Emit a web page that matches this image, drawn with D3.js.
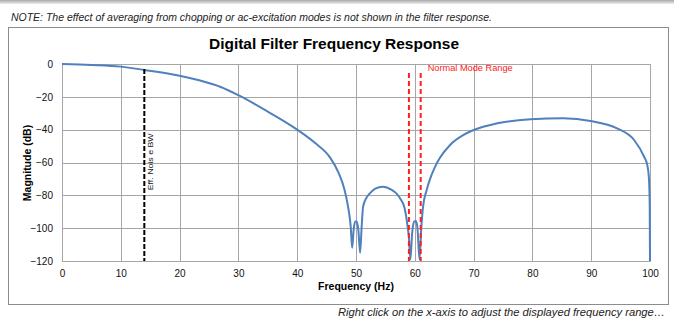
<!DOCTYPE html>
<html>
<head>
<meta charset="utf-8">
<script src="https://cdn.jsdelivr.net/npm/d3@7"></script>
<style>
  body { margin: 0; background: #fff; }
  svg { display: block; font-family: "Liberation Sans", Arial, sans-serif; }
</style>
</head>
<body>
<svg id="chart" width="674" height="326"></svg>
<script>
// filter response
const freqHz = [0, 5, 10, 14, 20, 23.5, 27, 30, 35, 40, 43, 45.6, 47, 48, 48.7, 49.1, 49.35, 49.6, 49.85, 50.1, 50.4, 50.7, 50.95, 51.2, 51.7, 52.3, 53.2, 54.6, 56, 56.9, 57.7, 58.2, 58.7, 59.0, 59.25, 59.55, 59.9, 60.2, 60.45, 60.8, 61.1, 61.4, 62, 62.6, 63.4, 64.3, 66, 68.3, 70, 74, 79.7, 85.3, 89.9, 94.4, 97.3, 99, 99.5, 99.8, 99.95, 100];
const magDb = [0, -0.6, -1.6, -3.6, -7.1, -10.1, -14, -19, -29, -40, -48, -57, -66, -76, -88, -99, -112, -101, -96, -96, -101, -115, -100, -87, -82, -79, -76, -74.7, -76.5, -79, -83, -87, -97, -106, -119, -103, -96, -95.6, -100, -119, -100, -87, -77, -70, -63, -57, -49.3, -43.2, -40.2, -36.1, -33.7, -33.1, -34.7, -39.2, -46.3, -56.5, -61, -68.6, -85, -120];

const xTicks = [0, 10, 20, 30, 40, 50, 60, 70, 80, 90, 100];
const yTicks = [0, -20, -40, -60, -80, -100, -120];

// marker lines: [freq, top dB]
const noiseBwLine = [14, -3];
const normalModeLines = [[59, -5.5], [61, -5.5]];

const svg = d3.select("#chart");

// top shading strip
const defs = svg.append("defs");
const grad = defs.append("linearGradient").attr("id", "topband").attr("x1", 0).attr("y1", 0).attr("x2", 0).attr("y2", 1);
grad.append("stop").attr("offset", "0%").attr("stop-color", "#a8a8a8");
grad.append("stop").attr("offset", "100%").attr("stop-color", "#ececec");
svg.append("rect").attr("x", 0).attr("y", 0).attr("width", 674).attr("height", 4).attr("fill", "url(#topband)");

svg.append("text")
    .attr("x", 11).attr("y", 21)
    .attr("font-size", 11).attr("font-style", "italic").attr("fill", "#222")
    .attr("textLength", 481).attr("lengthAdjust", "spacingAndGlyphs")
    .text("NOTE: The effect of averaging from chopping or ac-excitation modes is not shown in the filter response.");

// chart box
svg.append("rect")
    .attr("x", 8.5).attr("y", 27.5).attr("width", 660).attr("height", 277)
    .attr("fill", "#fff").attr("stroke", "#8c8c8c").attr("stroke-width", 1);

svg.append("text")
    .attr("x", 334).attr("y", 49)
    .attr("text-anchor", "middle")
    .attr("font-size", 15).attr("font-weight", "bold").attr("fill", "#000")
    .attr("textLength", 250).attr("lengthAdjust", "spacingAndGlyphs")
    .text("Digital Filter Frequency Response");

const margin = { top: 64, left: 62 };
const width = 588;
const height = 197;

const g = svg.append("g").attr("transform", `translate(${margin.left},${margin.top})`);

const xScale = d3.scaleLinear([0, 100], [0, width]);
const yScale = d3.scaleLinear([-120, 0], [height, 0]);

// grid
g.append("g")
    .selectAll("line")
    .data(xTicks)
    .join("line")
    .attr("x1", d => Math.round(xScale(d)) + 0.5).attr("x2", d => Math.round(xScale(d)) + 0.5)
    .attr("y1", 0).attr("y2", height)
    .attr("stroke", "#a6a6a6");
g.append("g")
    .selectAll("line")
    .data(yTicks)
    .join("line")
    .attr("x1", 0).attr("x2", width)
    .attr("y1", d => Math.round(yScale(d)) + 0.5).attr("y2", d => Math.round(yScale(d)) + 0.5)
    .attr("stroke", "#a6a6a6");
g.append("rect")
    .attr("x", 0.5).attr("y", 0.5).attr("width", width).attr("height", height)
    .attr("fill", "none").attr("stroke", "#a6a6a6");

// axes
const xAxis = d3.axisBottom(xScale).tickValues(xTicks).tickSize(0).tickPadding(9);
const yAxis = d3.axisLeft(yScale).tickValues(yTicks).tickSize(0).tickPadding(9);
g.append("g")
    .attr("transform", `translate(0,${height})`)
    .call(xAxis)
    .call(a => a.select(".domain").remove())
    .selectAll("text").attr("font-size", 10).attr("fill", "#111").attr("font-family", "Liberation Sans, Arial, sans-serif");
g.append("g")
    .call(yAxis)
    .call(a => a.select(".domain").remove())
    .selectAll("text").attr("font-size", 10).attr("fill", "#111").attr("font-family", "Liberation Sans, Arial, sans-serif");

// axis titles
svg.append("text")
    .attr("x", margin.left + width / 2).attr("y", 290)
    .attr("text-anchor", "middle")
    .attr("font-size", 10.5).attr("font-weight", "bold")
    .text("Frequency (Hz)");
svg.append("text")
    .attr("transform", "translate(31,163) rotate(-90)")
    .attr("text-anchor", "middle")
    .attr("font-size", 10.5).attr("font-weight", "bold")
    .text("Magnitude (dB)");

// clip
defs.append("clipPath").attr("id", "plot-area")
    .append("rect").attr("x", 0).attr("y", -2).attr("width", width + 2).attr("height", height + 2);

// response curve
const data = freqHz.map((f, i) => [f, magDb[i]]);
const line = d3.line()
    .x(d => xScale(d[0]))
    .y(d => yScale(d[1]))
    .curve(d3.curveMonotoneX);
g.append("path")
    .datum(data)
    .attr("clip-path", "url(#plot-area)")
    .attr("fill", "none")
    .attr("stroke", "#4f81bd")
    .attr("stroke-width", 2)
    .attr("d", line);

// effective noise bandwidth marker
g.append("line")
    .attr("x1", xScale(noiseBwLine[0])).attr("x2", xScale(noiseBwLine[0]))
    .attr("y1", yScale(noiseBwLine[1])).attr("y2", yScale(-120))
    .attr("stroke", "#000").attr("stroke-width", 2).attr("stroke-dasharray", "5,2");
g.append("text")
    .attr("transform", `translate(${xScale(noiseBwLine[0]) + 9},${yScale(-80) - 5}) rotate(-90)`)
    .attr("font-size", 8).attr("fill", "#111")
    .attr("textLength", 57).attr("lengthAdjust", "spacingAndGlyphs")
    .text("Eff. Nois e BW");

// normal mode range markers
g.selectAll(".nmr")
    .data(normalModeLines)
    .join("line")
    .attr("class", "nmr")
    .attr("x1", d => xScale(d[0])).attr("x2", d => xScale(d[0]))
    .attr("y1", d => yScale(d[1])).attr("y2", yScale(-120))
    .attr("stroke", "#ff1f1f").attr("stroke-width", 2).attr("stroke-dasharray", "5,3");
g.append("text")
    .attr("x", xScale(61) + 7).attr("y", yScale(-5.5) - 2)
    .attr("font-size", 9).attr("fill", "#ff2020")
    .attr("textLength", 85).attr("lengthAdjust", "spacingAndGlyphs")
    .text("Normal Mode Range");

// footer
svg.append("text")
    .attr("x", 665).attr("y", 316)
    .attr("text-anchor", "end")
    .attr("font-size", 11).attr("font-style", "italic").attr("fill", "#222")
    .attr("textLength", 327).attr("lengthAdjust", "spacingAndGlyphs")
    .text("Right click on the x-axis to adjust the displayed frequency range…");
</script>
</body>
</html>
